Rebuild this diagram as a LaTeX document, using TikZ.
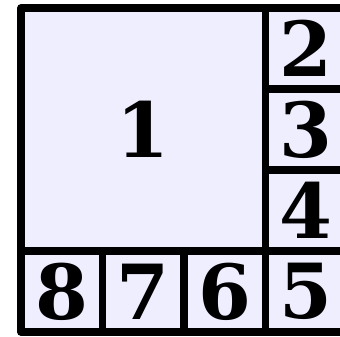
\documentclass[tikz,border=0pt]{standalone}
\usepackage{fontspec}
\setmainfont{DejaVu Serif}
\definecolor{cellfill}{RGB}{238,238,255}
\begin{document}
\begin{tikzpicture}[x=1pt,y=-1pt,
  cell/.style={draw=black, fill=cellfill, line width=7.5pt, line join=round,
    rectangle, inner sep=0pt, anchor=center,
    font=\fontsize{76}{76}\selectfont\bfseries},
  small/.style={cell, minimum width=81.5pt, minimum height=81pt}]
\clip (0,0) rectangle (340,337);
\useasboundingbox (0,0) rectangle (340,337);
\fill[white] (0,0) rectangle (340,337);
\node[cell, minimum width=244.5pt, minimum height=243pt] (c1) at (143.25,129.5) {1};
\node[small] (c2) at (306.25,48.5) {2};
\node[small] (c3) at (306.25,129.5) {3};
\node[small] (c4) at (306.25,210.5) {4};
\node[small] (c5) at (306.25,291.5) {5};
\node[small] (c6) at (224.75,291.5) {6};
\node[small] (c7) at (143.25,291.5) {7};
\node[small] (c8) at (61.75,291.5) {8};
\end{tikzpicture}
\end{document}
